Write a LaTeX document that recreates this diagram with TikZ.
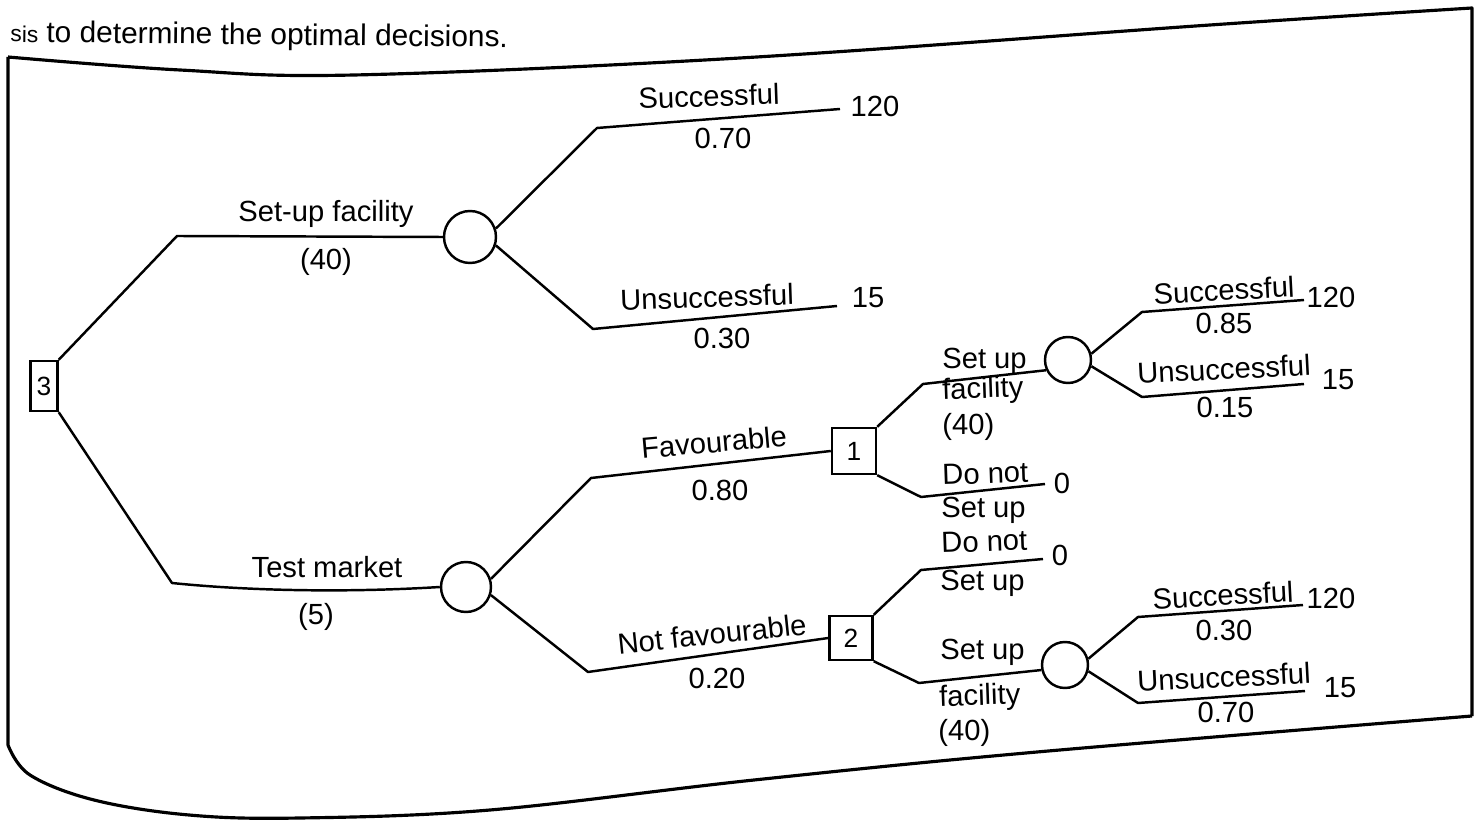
\documentclass[tikz,border=0pt]{standalone}
\usepackage{fontspec}
\setmainfont{Liberation Sans}
\begin{document}
\begin{tikzpicture}[x=0.02cm,y=-0.02cm,
  lbl/.style={font=\fontsize{16.6}{18}\selectfont, inner sep=0pt},
  chance/.style={draw, circle, line width=1.4pt, inner sep=0pt},
  decis/.style={draw, rectangle, line width=1.4pt, inner sep=0pt, font=\fontsize{15}{17}\selectfont},
  branch/.style={line width=1.4pt, line join=round},
  frame/.style={line width=1.8pt, line join=round}]
\useasboundingbox (0,0) rectangle (1478,820);

% heading text
\node[lbl, anchor=base west, rotate=-0.6] (head) at (10,42)
  {{\fontsize{13}{14}\selectfont sis} \fontsize{17}{19}\selectfont to determine the optimal decisions.};

% frame
\draw[frame] plot[smooth, tension=0.6] coordinates {(8,57) (180,70) (354,75) (740,58) (1210,25) (1472,8)}
  -- (1472,716)
  plot[smooth, tension=0.6] coordinates {(1472,716) (1037,752) (754,780) (490,810) (300,818) (189,815) (94,800) (30,775) (8,745)}
  -- (8,57);

% decision and chance nodes
\node[decis, minimum width=0.54cm, minimum height=1.0cm] (d3) at (44,386) {3};
\node[chance, minimum size=1.04cm] (cA) at (470,237) {};
\node[chance, minimum size=1.0cm] (cB) at (466,587) {};
\node[decis, minimum width=0.88cm, minimum height=0.92cm] (d1) at (854,451) {1};
\node[decis, minimum width=0.86cm, minimum height=0.88cm] (d2) at (851,638) {2};
\node[chance, minimum size=0.92cm] (cC) at (1068,360) {};
\node[chance, minimum size=0.92cm] (cD) at (1065,665) {};

% bend points and terminal ends
\coordinate (b1) at (177,236);
\coordinate (b2) at (172,583);
\coordinate (bA1) at (597,128);  \coordinate (eA1) at (840,109);
\coordinate (bA2) at (593,329);  \coordinate (eA2) at (837,306);
\coordinate (bB1) at (591,478);
\coordinate (bB2) at (588,672);
\coordinate (b11) at (923,384);
\coordinate (b12) at (921,497);  \coordinate (e12) at (1045,484);
\coordinate (b21) at (921,570);  \coordinate (e21) at (1043,559);
\coordinate (b22) at (919,683);
\coordinate (bC1) at (1142,312); \coordinate (eC1) at (1304,300);
\coordinate (bC2) at (1142,397); \coordinate (eC2) at (1304,384);
\coordinate (bD1) at (1138,617); \coordinate (eD1) at (1303,605);
\coordinate (bD2) at (1138,703); \coordinate (eD2) at (1305,691);

% connectors
\draw[branch] (d3.north east) -- (b1) -- (cA.west);
\draw[branch] (d3.south east) -- (b2) .. controls (260,592) and (360,592) .. (cB.west);
\draw[branch] (cA.18) -- (bA1) -- (eA1);
\draw[branch] (cA.-18) -- (bA2) -- (eA2);
\draw[branch] (cB.18) -- (bB1) -- (d1.west);
\draw[branch] (cB.-18) -- (bB2) -- (d2.west);
\draw[branch] (d1.north east) -- (b11) -- (cC.205);
\draw[branch] (d1.south east) -- (b12) -- (e12);
\draw[branch] (d2.north east) -- (b21) -- (e21);
\draw[branch] (d2.south east) -- (b22) -- (cD.192);
\draw[branch] (cC.15) -- (bC1) -- (eC1);
\draw[branch] (cC.-15) -- (bC2) -- (eC2);
\draw[branch] (cD.15) -- (bD1) -- (eD1);
\draw[branch] (cD.-15) -- (bD2) -- (eD2);

% labels
\node[lbl] (l1) at (326,214) {Set-up facility};
\node[lbl] (l2) at (326,262) {(40)};
\node[lbl] (l3) at (327,567) {Test market};
\node[lbl] (l4) at (316,617) {(5)};

\node[lbl, rotate=2] (l5) at (709,96) {Successful};
\node[lbl] (l6) at (723,138) {0.70};
\node[lbl] (l7) at (875,106) {120};
\node[lbl, rotate=2] (l8) at (707,297) {Unsuccessful};
\node[lbl] (l9) at (722,338) {0.30};
\node[lbl] (l10) at (868,298) {15};

\node[lbl, rotate=5] (l11) at (714,442) {Favourable};
\node[lbl] (l12) at (720,490) {0.80};
\node[lbl, rotate=6] (l13) at (712,634) {Not favourable};
\node[lbl] (l14) at (717,678) {0.20};

\node[lbl, anchor=west] (l15) at (942,361) {Set up};
\node[lbl, anchor=west, rotate=2] (l16) at (942,392) {facility};
\node[lbl, anchor=west] (l17) at (942,427) {(40)};
\node[lbl, anchor=west, rotate=2] (l18) at (942,475) {Do not};
\node[lbl, anchor=west] (l19) at (941,510) {Set up};
\node[lbl] (l20) at (1062,483) {0};
\node[lbl, anchor=west, rotate=2] (l21) at (941,543) {Do not};
\node[lbl, anchor=west] (l22) at (940,583) {Set up};
\node[lbl] (l23) at (1060,555) {0};
\node[lbl, anchor=west] (l24) at (940,652) {Set up};
\node[lbl, anchor=west, rotate=2] (l25) at (939,699) {facility};
\node[lbl, anchor=west] (l26) at (938,733) {(40)};

\node[lbl, rotate=3] (l27) at (1224,290) {Successful};
\node[lbl] (l28) at (1224,323) {0.85};
\node[lbl] (l29) at (1331,297) {120};
\node[lbl, rotate=3] (l30) at (1224,369) {Unsuccessful};
\node[lbl] (l31) at (1225,407) {0.15};
\node[lbl] (l32) at (1338,380) {15};

\node[lbl, rotate=3] (l33) at (1223,595) {Successful};
\node[lbl] (l34) at (1224,630) {0.30};
\node[lbl] (l35) at (1331,598) {120};
\node[lbl, rotate=3] (l36) at (1224,677) {Unsuccessful};
\node[lbl] (l37) at (1226,712) {0.70};
\node[lbl] (l38) at (1340,688) {15};
\end{tikzpicture}
\end{document}
